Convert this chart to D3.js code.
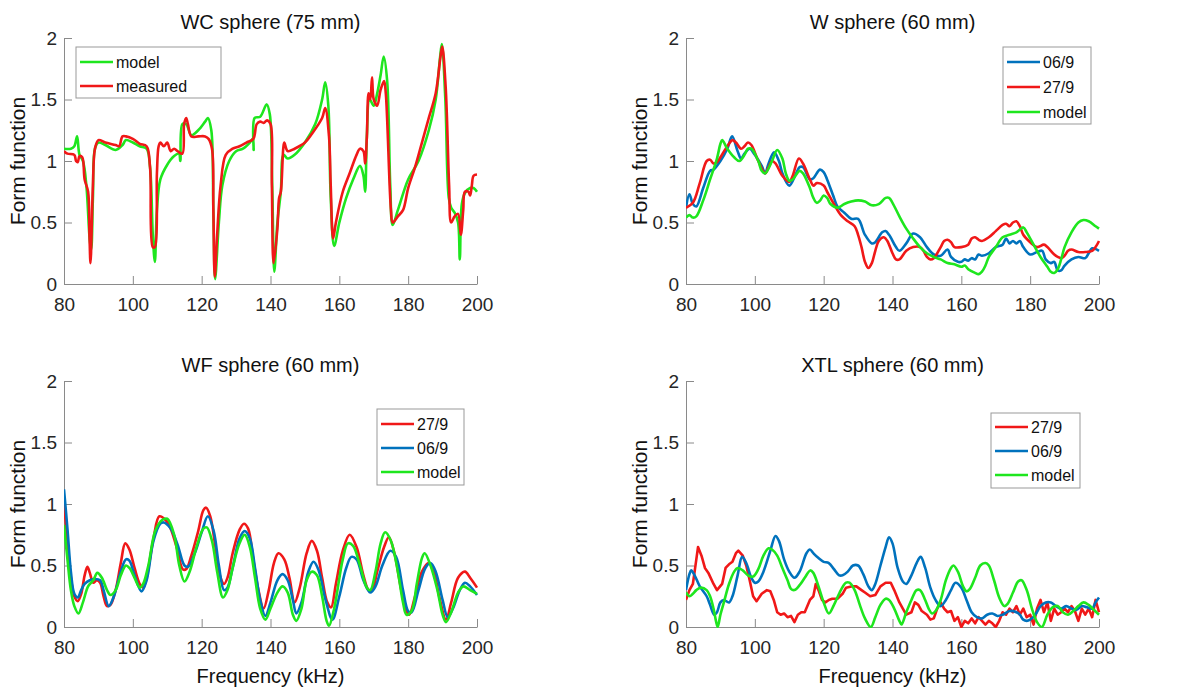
<!DOCTYPE html>
<html>
<head>
<meta charset="utf-8">
<script src="https://cdn.jsdelivr.net/npm/d3@7"></script>
<style>
  body { margin: 0; background: #fff; }
  text { font-family: "Liberation Sans", Arial, sans-serif; }
</style>
</head>
<body>
<div id="chart"></div>
<script>
var xTicks = [80, 100, 120, 140, 160, 180, 200];
var yTicks = [0, 0.5, 1, 1.5, 2];

// WC sphere (75 mm)
var wcModel = [[80,1.1],[82,1.1],[83,1.12],[83.8,1.2],[84.5,1.05],[85.5,1.0],[86.5,0.8],[87.5,0.35],[87.9,0.28],[88.4,0.7],[89,1.1],[90,1.15],[92,1.13],[95,1.09],[97,1.13],[98,1.17],[100,1.15],[102,1.12],[104,1.1],[105,0.95],[105.8,0.4],[106.4,0.18],[107,0.6],[108,0.85],[110,0.97],[112,1.04],[113.4,1.06],[113.8,1.0],[114.4,1.3],[115.5,1.3],[117,1.21],[119,1.25],[121,1.32],[121.8,1.35],[122.8,1.25],[123.4,0.6],[123.9,0.04],[125,0.5],[126,0.8],[128,1.0],[130,1.08],[132,1.1],[134,1.15],[134.9,1.18],[135.1,1.09],[135.4,1.35],[137,1.36],[138.9,1.46],[139.8,1.38],[140.5,0.8],[141.1,0.1],[142,0.5],[143,0.75],[143.8,1.05],[145,1.02],[147,1.05],[150,1.15],[153,1.3],[155,1.5],[155.9,1.64],[156.8,1.45],[157.5,0.7],[158.5,0.31],[160,0.5],[162,0.7],[164,0.85],[166,0.96],[167,0.88],[167.5,0.75],[168,1.2],[168.8,1.5],[170,1.45],[171,1.55],[172,1.7],[172.9,1.85],[173.9,1.65],[174.8,0.8],[175.5,0.48],[177,0.6],[180,0.85],[183,1.0],[186,1.25],[188,1.5],[189.3,1.85],[189.8,1.95],[190.8,1.5],[191.8,0.7],[192.5,0.62],[193.5,0.58],[194.5,0.5],[195,0.2],[195.6,0.65],[196.5,0.74],[198,0.78],[199,0.78],[200,0.75]];
var wcMeasured = [[80,1.08],[81,1.06],[83,1.05],[83.5,1.0],[84,0.99],[84.5,1.04],[85.3,1.03],[86,0.85],[87,0.75],[87.4,0.4],[87.7,0.17],[88.4,0.8],[89,1.1],[90,1.17],[92,1.15],[95,1.13],[96,1.12],[97,1.2],[98,1.2],[100,1.18],[102,1.14],[104,1.12],[105,0.95],[105.8,0.3],[106.4,0.3],[107,0.9],[107.5,1.12],[108,1.15],[109,1.12],[110,1.15],[111,1.08],[112,1.1],[113,1.08],[114.4,1.06],[114.9,1.3],[115.5,1.35],[116,1.3],[117,1.2],[119,1.2],[121,1.2],[122,1.18],[123,1.1],[123.4,0.6],[123.8,0.06],[124.5,0.4],[125.5,0.8],[127,1.05],[129,1.1],[131,1.12],[133,1.15],[135,1.18],[136,1.3],[137,1.32],[138,1.31],[139,1.33],[140,1.3],[140.4,0.8],[140.9,0.17],[142,0.45],[142.5,0.7],[143,0.75],[143.7,1.1],[144,1.15],[145,1.08],[147,1.1],[150,1.15],[152,1.22],[155,1.35],[155.9,1.43],[157,1.2],[157.5,0.8],[158.2,0.37],[159,0.5],[161,0.75],[163,0.9],[165,1.05],[166,1.1],[167,1.08],[167.5,0.98],[168,1.2],[168.5,1.55],[169,1.5],[169.5,1.68],[170,1.5],[171,1.45],[172,1.58],[173,1.65],[173.5,1.55],[175,0.6],[175.5,0.5],[177,0.55],[178.5,0.6],[180,0.78],[182,0.95],[184,1.15],[186,1.35],[188,1.55],[189.4,1.85],[189.9,1.93],[190.9,1.6],[191.9,0.8],[192.5,0.5],[193.5,0.55],[194.5,0.57],[195.3,0.4],[196,0.6],[196.5,0.75],[197.5,0.75],[198,0.72],[198.5,0.8],[199,0.88],[200,0.89]];

// W sphere (60 mm)
var w069 = [[80,0.62],[81,0.73],[82,0.65],[83,0.63],[85,0.78],[87,0.92],[88,0.93],[90,1.0],[92,1.1],[93.4,1.2],[95,1.08],[96,1.02],[97,1.06],[98.5,1.1],[100,1.05],[102,0.96],[103,0.9],[104,0.98],[105.6,1.07],[107,1.0],[108,0.9],[110,0.8],[112,0.9],[113,0.95],[114,0.95],[116,0.85],[117,0.86],[118.9,0.93],[120,0.91],[121,0.85],[123,0.7],[124,0.63],[126,0.58],[128,0.53],[130,0.53],[132,0.4],[134,0.33],[135,0.34],[137,0.42],[138,0.43],[139,0.4],[141,0.3],[142,0.27],[144,0.33],[146,0.41],[148,0.38],[150,0.3],[152,0.24],[154,0.23],[156,0.28],[157,0.22],[159,0.18],[160,0.18],[161,0.2],[162,0.19],[163,0.21],[164,0.2],[165,0.24],[166,0.23],[168,0.25],[170,0.3],[172,0.32],[173,0.37],[174,0.33],[175,0.35],[176,0.33],[177,0.35],[178,0.3],[180,0.24],[182,0.26],[183.5,0.27],[184.5,0.2],[186,0.17],[187,0.18],[188,0.11],[189,0.11],[190,0.15],[192,0.2],[194,0.22],[196,0.21],[197,0.25],[198,0.29],[200,0.27]];
var w279 = [[80,0.62],[82,0.66],[84,0.82],[86,1.0],[87,1.01],[88,0.98],[89,0.99],[90,1.03],[92,1.12],[93.5,1.17],[94.5,1.15],[96,1.1],[97,1.12],[98,1.15],[99,1.13],[101,1.0],[103,0.9],[104,0.95],[105,1.0],[106,0.98],[108,0.88],[110,0.83],[111,0.88],[112.8,1.02],[114,0.98],[116,0.85],[117,0.8],[118,0.82],[120,0.8],[121,0.75],[123,0.65],[125,0.56],[127,0.51],[129,0.47],[130,0.4],[131,0.3],[132,0.18],[133,0.13],[134,0.17],[135,0.27],[136,0.35],[137.5,0.38],[138.5,0.35],[140,0.25],[141,0.2],[142,0.2],[144,0.27],[146,0.3],[148,0.3],[149,0.27],[150,0.22],[151,0.2],[152,0.21],[154,0.3],[155,0.35],[156,0.36],[157,0.34],[158,0.3],[160,0.3],[162,0.32],[163,0.37],[164,0.38],[165,0.36],[166,0.35],[168,0.38],[170,0.43],[172,0.48],[173,0.49],[174,0.47],[175,0.5],[176,0.51],[177,0.47],[178,0.4],[180,0.34],[182,0.3],[184,0.32],[185,0.3],[187,0.24],[188,0.22],[189,0.21],[190,0.23],[191,0.27],[192,0.28],[194,0.26],[196,0.26],[198,0.27],[199,0.3],[200,0.35]];
var wModel = [[80,0.54],[81,0.56],[82,0.54],[83,0.55],[85,0.68],[87,0.85],[89,1.02],[90,1.14],[90.5,1.17],[92,1.1],[94,1.03],[95.5,1.0],[97,1.05],[98,1.1],[99,1.1],[101,1.0],[102,0.92],[103,0.9],[105,1.0],[106.5,1.09],[108,1.02],[109,0.9],[110,0.84],[111,0.85],[113,0.92],[114,0.9],[116,0.78],[117,0.7],[118,0.66],[119,0.68],[120,0.72],[121,0.7],[122,0.65],[124,0.62],[126,0.65],[128,0.67],[130,0.68],[132,0.67],[134,0.64],[136,0.65],[138,0.7],[139,0.7],[140,0.66],[142,0.55],[144,0.45],[146,0.37],[148,0.3],[150,0.25],[152,0.22],[154,0.2],[156,0.17],[158,0.16],[160,0.14],[161,0.15],[162,0.12],[164,0.09],[165,0.08],[166,0.1],[167,0.15],[168,0.22],[170,0.3],[172,0.38],[174,0.4],[176,0.42],[178,0.46],[179,0.42],[181,0.32],[183,0.22],[185,0.14],[186,0.1],[187,0.09],[188,0.12],[189,0.2],[190,0.3],[192,0.42],[194,0.5],[195.5,0.52],[197,0.51],[199,0.47],[200,0.45]];

// WF sphere (60 mm)
var wf279 = [[80,1.0],[81,0.7],[82,0.4],[83,0.25],[84,0.21],[85,0.27],[86,0.42],[86.8,0.49],[87.5,0.44],[88.5,0.36],[89.5,0.38],[90.5,0.36],[91.5,0.25],[92.5,0.17],[93.5,0.18],[95,0.3],[96.5,0.52],[97.8,0.68],[99,0.63],[100.5,0.48],[102,0.35],[103,0.32],[104,0.4],[106,0.72],[107.7,0.9],[109.5,0.87],[111,0.8],[113,0.62],[114.5,0.47],[115.5,0.47],[117,0.58],[119,0.78],[120.5,0.95],[121.3,0.97],[122.5,0.9],[124,0.65],[125.5,0.4],[126.5,0.35],[127.5,0.4],[129,0.6],[131,0.79],[132.3,0.84],[133.5,0.8],[135,0.55],[136.5,0.3],[138,0.15],[139.5,0.3],[141,0.52],[142.3,0.6],[144,0.55],[145.5,0.4],[147,0.2],[148.5,0.32],[150.5,0.6],[152,0.7],[153.5,0.62],[155,0.4],[156.5,0.2],[157.6,0.16],[159,0.35],[161,0.62],[163,0.75],[165,0.65],[167,0.42],[168.5,0.3],[169.5,0.3],[171,0.45],[173,0.65],[174.4,0.73],[176,0.6],[178,0.3],[179.5,0.13],[180.3,0.1],[182,0.25],[184,0.45],[186,0.52],[187.5,0.45],[189,0.25],[191,0.06],[192.5,0.2],[194.5,0.4],[196.5,0.45],[198,0.4],[200,0.32]];
var wf069 = [[80,1.12],[81,0.8],[82,0.45],[83,0.27],[84,0.24],[85,0.3],[86,0.35],[87.5,0.38],[89,0.39],[90.5,0.38],[91.5,0.3],[93,0.17],[94.5,0.25],[96.5,0.45],[98,0.55],[99,0.54],[100.5,0.42],[102.5,0.29],[104,0.38],[106,0.7],[108,0.84],[109,0.85],[111,0.8],[113,0.67],[115,0.5],[116,0.49],[118,0.6],[120,0.77],[121.8,0.9],[123.5,0.78],[125,0.5],[126.5,0.3],[127.5,0.32],[129,0.48],[131,0.72],[132.5,0.78],[134,0.72],[135.5,0.48],[137,0.22],[138.5,0.09],[140,0.2],[142,0.38],[143.5,0.43],[145,0.38],[146.5,0.22],[147.5,0.11],[149,0.2],[151,0.45],[152.5,0.53],[154,0.46],[156,0.22],[158,0.06],[160,0.25],[162,0.48],[163.5,0.57],[165,0.55],[167,0.38],[169,0.28],[170.5,0.33],[172.5,0.5],[174.8,0.62],[176.5,0.57],[178.5,0.3],[180,0.13],[181,0.12],[183,0.3],[185,0.48],[186.5,0.52],[188,0.45],[190,0.22],[191.5,0.08],[193,0.15],[195,0.3],[196.5,0.36],[198,0.33],[200,0.26]];
var wfModel = [[80,0.83],[81,0.55],[82,0.3],[83,0.17],[84.2,0.11],[85.5,0.2],[87,0.33],[88.5,0.38],[89.7,0.44],[91,0.4],[92.5,0.3],[93.5,0.26],[95,0.3],[96.5,0.42],[98,0.5],[99,0.48],[100.5,0.4],[102,0.32],[103,0.35],[104.5,0.5],[106.5,0.78],[108.5,0.87],[110,0.88],[112,0.75],[113.5,0.5],[115,0.37],[116.5,0.45],[118.5,0.65],[120.5,0.8],[121.5,0.81],[123,0.7],[124.5,0.45],[126.2,0.24],[127.5,0.3],[129,0.48],[131,0.68],[132.5,0.75],[134,0.65],[135.5,0.4],[137,0.15],[138.5,0.06],[140,0.15],[142,0.28],[143.5,0.33],[145,0.28],[146.5,0.1],[147.5,0.05],[149,0.15],[150.5,0.38],[152,0.45],[153.5,0.42],[155,0.25],[156.3,0.05],[157,0.01],[158.5,0.15],[161,0.55],[162.5,0.68],[164,0.66],[166,0.5],[168,0.32],[169,0.3],[170.5,0.45],[172,0.68],[173.3,0.77],[175,0.7],[177,0.45],[178.5,0.2],[179.5,0.1],[181,0.13],[182.5,0.35],[184,0.56],[184.8,0.6],[186.5,0.5],[188.5,0.3],[190,0.1],[191,0.04],[192.5,0.12],[194.5,0.28],[196,0.33],[198,0.3],[200,0.27]];

// XTL sphere (60 mm)
var xtl279 = [[80,0.22],[81,0.3],[82,0.35],[83,0.55],[83.5,0.65],[84.5,0.58],[85.5,0.48],[86.5,0.44],[88,0.35],[89,0.3],[90.5,0.35],[91.5,0.48],[92.5,0.51],[93.5,0.53],[94.5,0.6],[95.2,0.62],[96.5,0.58],[97.5,0.5],[98.5,0.38],[99.5,0.25],[100.5,0.21],[102,0.27],[103.5,0.3],[104.5,0.29],[105.5,0.22],[106.5,0.12],[107.5,0.1],[108.5,0.11],[109.5,0.08],[110.5,0.09],[111.5,0.04],[112.5,0.1],[113.5,0.12],[114.5,0.12],[116,0.22],[117,0.25],[117.7,0.35],[118.5,0.3],[119.5,0.22],[120.5,0.2],[121.5,0.22],[122.5,0.23],[124,0.23],[125.5,0.27],[126.5,0.32],[128,0.33],[129.5,0.33],[131,0.3],[132,0.28],[133.5,0.25],[135,0.26],[136.5,0.33],[138,0.36],[139.5,0.36],[140.5,0.3],[142,0.2],[143,0.15],[144,0.1],[145.5,0.12],[146.5,0.2],[147.5,0.18],[148.5,0.13],[150,0.1],[151,0.06],[152,0.07],[153,0.15],[154,0.2],[155,0.15],[156,0.12],[157,0.13],[158,0.05],[159,0.08],[160,0.0],[161,0.05],[162,0.03],[163,0.07],[164,0.03],[165,0.08],[166,0.05],[167,0.02],[168,0.05],[169,0.03],[170,0.0],[171,0.05],[172,0.12],[173,0.1],[174,0.15],[175,0.12],[176,0.17],[177,0.1],[178,0.15],[179,0.08],[180,0.1],[181,0.02],[182,0.15],[183,0.22],[184,0.12],[185,0.2],[186,0.05],[187,0.15],[188,0.1],[189,0.12],[190,0.15],[191,0.12],[192,0.17],[193,0.13],[194,0.05],[195,0.15],[196,0.1],[197,0.15],[198,0.08],[199,0.22],[200,0.12]];
var xtl069 = [[80,0.3],[81,0.43],[81.5,0.46],[82.5,0.42],[84,0.33],[86,0.25],[87,0.18],[88.2,0.1],[89,0.12],[90,0.2],[91,0.22],[92.5,0.2],[93.5,0.25],[95,0.42],[96.3,0.57],[97.5,0.52],[99,0.4],[100,0.36],[101,0.37],[102.5,0.45],[104.5,0.62],[106,0.74],[107,0.7],[108.5,0.55],[110,0.45],[111.5,0.4],[113,0.45],[115,0.6],[116,0.63],[117,0.6],[118.5,0.56],[120,0.53],[121.5,0.52],[123,0.47],[124.5,0.42],[125.5,0.42],[127,0.45],[128.5,0.5],[130,0.5],[131.5,0.43],[133,0.33],[134,0.3],[135,0.35],[136.5,0.5],[138,0.65],[139,0.73],[140,0.68],[141.5,0.48],[143,0.37],[144,0.35],[145.5,0.42],[147,0.52],[148.2,0.57],[149.5,0.48],[151,0.32],[152.5,0.22],[154,0.17],[155.5,0.22],[157,0.3],[158.3,0.36],[160,0.32],[161.5,0.22],[163,0.12],[164.5,0.08],[166,0.07],[167.5,0.1],[169,0.11],[170.5,0.09],[172,0.1],[174,0.13],[176,0.12],[177,0.1],[178,0.06],[179,0.05],[180,0.06],[181.5,0.1],[183,0.17],[184.5,0.2],[186,0.2],[187.5,0.17],[189,0.15],[190.5,0.17],[192,0.15],[193.5,0.14],[195,0.17],[196.5,0.16],[198,0.15],[199,0.2],[200,0.24]];
var xtlModel = [[80,0.28],[81,0.25],[82,0.27],[83,0.3],[84.3,0.32],[86,0.3],[87,0.25],[88,0.15],[88.7,0.05],[89.2,0.0],[90,0.1],[91,0.2],[92.5,0.35],[94,0.45],[95,0.48],[96.5,0.46],[98,0.42],[99.5,0.41],[101,0.47],[102.5,0.58],[104,0.64],[105,0.63],[106.5,0.58],[108,0.48],[109.5,0.38],[110.5,0.31],[111.5,0.3],[113,0.34],[114.5,0.4],[116.1,0.46],[117,0.44],[118.5,0.33],[120,0.2],[121.5,0.11],[123,0.18],[125,0.3],[126.5,0.36],[127.5,0.36],[129,0.3],[130.5,0.18],[132,0.07],[133.7,0.0],[135,0.08],[136.5,0.18],[138,0.23],[139,0.22],[140.5,0.15],[142,0.05],[142.6,0.02],[144,0.12],[145.5,0.22],[147,0.3],[148,0.3],[149.5,0.22],[150.5,0.15],[151.5,0.11],[152.5,0.13],[154,0.22],[155.5,0.38],[157,0.48],[157.7,0.5],[159,0.45],[160.5,0.33],[161.5,0.29],[162.5,0.31],[164,0.4],[165.5,0.5],[167,0.52],[168,0.5],[169.5,0.38],[171,0.24],[172.5,0.17],[173.5,0.19],[175,0.28],[176.5,0.37],[177.5,0.38],[179,0.3],[180.5,0.15],[182,0.04],[183.4,0.0],[185,0.1],[186.5,0.16],[188,0.17],[189.5,0.12],[191,0.1],[192.5,0.13],[194,0.17],[195.5,0.2],[197,0.18],[198.5,0.14],[200,0.1]];

var red = "#f01818", green = "#1ee61e", blue = "#0072bd";

var panels = [
  {title: "WC sphere (75 mm)", left: 64, top: 38, xlabel: false,
   series: [{name: "model", data: wcModel, color: green}, {name: "measured", data: wcMeasured, color: red}],
   legend: {x: 76, y: 47, w: 145, h: 51, row: 24, first: 15}},
  {title: "W sphere (60 mm)", left: 686, top: 38, xlabel: false,
   series: [{name: "06/9", data: w069, color: blue}, {name: "27/9", data: w279, color: red}, {name: "model", data: wModel, color: green}],
   legend: {x: 1003, y: 47, w: 88, h: 77, row: 25, first: 15}},
  {title: "WF sphere (60 mm)", left: 64, top: 381, xlabel: true,
   series: [{name: "27/9", data: wf279, color: red}, {name: "06/9", data: wf069, color: blue}, {name: "model", data: wfModel, color: green}],
   legend: {x: 377, y: 409, w: 87, h: 76, row: 24, first: 15}},
  {title: "XTL sphere (60 mm)", left: 686, top: 381, xlabel: true,
   series: [{name: "27/9", data: xtl279, color: red, rough: true}, {name: "06/9", data: xtl069, color: blue}, {name: "model", data: xtlModel, color: green}],
   legend: {x: 991, y: 413, w: 89, h: 75, row: 24, first: 14}}
];

var pw = 413, ph = 246;

var svg = d3.select("#chart")
  .append("svg")
    .attr("width", 1197)
    .attr("height", 691);

panels.forEach(function(p, i) {
  var x = d3.scaleLinear().domain([80, 200]).range([p.left, p.left + pw]);
  var y = d3.scaleLinear().domain([0, 2]).range([p.top + ph, p.top]);

  svg.append("clipPath").attr("id", "clip" + i)
    .append("rect")
      .attr("x", p.left).attr("y", p.top - 2)
      .attr("width", pw + 2).attr("height", ph + 3);

  // axes, ticks pointing inward like matlab
  var gx = svg.append("g")
    .attr("transform", "translate(0," + (p.top + ph) + ")")
    .call(d3.axisBottom(x).tickValues(xTicks).tickSizeInner(-8).tickSizeOuter(0).tickPadding(14));
  var gy = svg.append("g")
    .attr("transform", "translate(" + p.left + ",0)")
    .call(d3.axisLeft(y).tickValues(yTicks).tickFormat(d3.format("")).tickSizeInner(-8).tickSizeOuter(0).tickPadding(7));
  [gx, gy].forEach(function(g) {
    g.select(".domain").attr("stroke", "#8a8a8a");
    g.selectAll(".tick line").attr("stroke", "#8a8a8a");
    g.selectAll(".tick text").attr("fill", "#262626").style("font-size", "19px");
  });

  p.series.forEach(function(s) {
    var line = d3.line()
      .x(function(d) { return x(d[0]) })
      .y(function(d) { return y(d[1]) })
      .curve(s.rough ? d3.curveLinear : d3.curveCatmullRom.alpha(0.5));
    svg.append("path")
      .datum(s.data)
      .attr("clip-path", "url(#clip" + i + ")")
      .attr("fill", "none")
      .attr("stroke", s.color)
      .attr("stroke-width", 2.6)
      .attr("stroke-linejoin", "round")
      .attr("d", line);
  });

  svg.append("text")
    .attr("x", p.left + pw / 2)
    .attr("y", p.top - 9)
    .attr("text-anchor", "middle")
    .attr("fill", "#111")
    .style("font-size", "20px")
    .text(p.title);

  svg.append("text")
    .attr("transform", "translate(" + (p.left - 39) + "," + (p.top + ph / 2) + ") rotate(-90)")
    .attr("text-anchor", "middle")
    .attr("fill", "#111")
    .style("font-size", "21px")
    .text("Form function");

  if (p.xlabel) {
    svg.append("text")
      .attr("x", p.left + pw / 2)
      .attr("y", p.top + ph + 56)
      .attr("text-anchor", "middle")
      .attr("fill", "#111")
      .style("font-size", "20px")
      .text("Frequency (kHz)");
  }

  var lg = p.legend;
  svg.append("rect")
    .attr("x", lg.x).attr("y", lg.y)
    .attr("width", lg.w).attr("height", lg.h)
    .attr("fill", "#fff")
    .attr("stroke", "#999")
    .attr("stroke-width", 1);
  p.series.forEach(function(s, k) {
    var ry = lg.y + lg.first + k * lg.row;
    svg.append("line")
      .attr("x1", lg.x + 4).attr("x2", lg.x + 37)
      .attr("y1", ry).attr("y2", ry)
      .attr("stroke", s.color)
      .attr("stroke-width", 2.6);
    svg.append("text")
      .attr("x", lg.x + 40)
      .attr("y", ry + 6)
      .attr("fill", "#111")
      .style("font-size", "16px")
      .text(s.name);
  });
});
</script>
</body>
</html>
